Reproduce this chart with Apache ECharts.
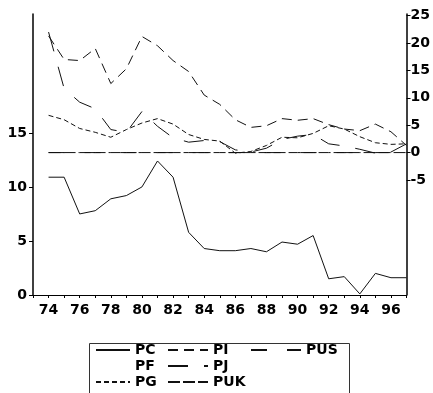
<!DOCTYPE html>
<html><head><meta charset="utf-8">
<script src="https://cdn.jsdelivr.net/npm/echarts@6/dist/echarts.min.js"></script>
<style>html,body{margin:0;padding:0;background:#fff}#c{width:433px;height:393px}</style>
</head><body><div id="c"></div>
<script>
const years = [1974,1975,1976,1977,1978,1979,1980,1981,1982,1983,1984,1985,1986,1987,1988,1989,1990,1991,1992,1993,1994,1995,1996,1997];
const PC  = [10.9,10.9,7.5,7.8,8.9,9.2,10.0,12.4,10.9,5.8,4.3,4.1,4.1,4.3,4.0,4.9,4.7,5.5,1.5,1.7,0.1,2.0,1.6,1.6];
const PF  = [];
const PG  = [6.8,6.0,4.4,3.7,2.8,4.2,5.4,6.2,5.2,3.3,2.4,2.1,-0.1,0.2,1.3,2.8,2.7,3.5,4.9,4.3,2.9,1.8,1.5,1.6];
const PI  = [21.3,17.0,16.8,19.0,12.6,15.3,21.2,19.5,16.8,14.8,10.5,8.8,6.0,4.6,4.9,6.2,5.9,6.2,5.1,4.3,4.0,5.2,3.8,1.3];
const PJ  = [22.0,11.7,9.2,8.0,4.2,3.7,7.5,4.8,2.7,1.9,2.2,2.0,0.5,0.1,0.8,2.4,3.0,3.3,1.6,1.2,0.6,-0.1,0.1,1.6];
const PUK = [0,0,0,0,0,0,0,0,0,0,0,0,0,0,0,0,0,0,0,0,0,0,0,0];
const PUS = [0,0,0,0,0,0,0,0,0,0,0,0,0,0,0,0,0,0,0,0,0,0,0,0];
const leftTicks = [0,5,10,15];
const rightTicks = [-5,0,5,10,15,20,25];
const xLabelYears = [1974,1976,1978,1980,1982,1984,1986,1988,1990,1992,1994,1996];

const pair = a => a.map((v,i)=>[years[i], v]);
const font = {fontFamily:'DejaVu Sans, Liberation Sans, sans-serif', fontWeight:'bold', fontSize:14, color:'#000'};
function mk(name, data, yIdx, type){
  return {name, type:'line', data:pair(data), yAxisIndex:yIdx, symbol:'none', silent:true,
    lineStyle:{color:'#111', width:1, type:type}, itemStyle:{color:'#000'}, z:3};
}
function leg(left, w, names){
  return {orient:'vertical', left:left, top:343, padding:0, itemWidth:w, itemHeight:14, itemGap:2,
    itemStyle:{opacity:0}, data:names, textStyle:font, selectedMode:false, height:60};
}
const chart = echarts.init(document.getElementById('c'), null, {renderer:'canvas'});
chart.setOption({
  animation:false,
  backgroundColor:'#fff',
  grid:{left:33, right:25, top:14, bottom:98},
  xAxis:{type:'value', min:1973, max:1997, interval:1,
    axisLine:{lineStyle:{color:'#000', width:1}},
    axisTick:{show:true, length:3, lineStyle:{color:'#000'}},
    splitLine:{show:false},
    axisLabel:Object.assign({margin:8, customValues:xLabelYears, formatter:v=>String(v).slice(2)}, font)},
  yAxis:[
    {type:'value', position:'left', min:0, max:26, interval:5,
      axisLine:{show:true, lineStyle:{color:'#000', width:1.5}},
      axisTick:{show:true, length:4, customValues:leftTicks, lineStyle:{color:'#000'}},
      splitLine:{show:false},
      axisLabel:Object.assign({margin:6, customValues:leftTicks}, font)},
    {type:'value', position:'right', min:-26, max:25.3, interval:5,
      axisLine:{show:true, lineStyle:{color:'#000', width:1.5}},
      axisTick:{show:true, length:4, customValues:rightTicks, lineStyle:{color:'#000'}},
      splitLine:{show:false},
      axisLabel:Object.assign({margin:4, customValues:rightTicks}, font)}
  ],
  legend:[
    leg(95, 34, ['PC','PF','PG']),
    leg(167, 40, ['PI','PJ','PUK']),
    leg(250, 50, ['PUS'])
  ],
  graphic:[{type:'rect', shape:{x:89.5, y:343.5, width:260, height:60}, style:{fill:'none', stroke:'#333', lineWidth:1}, z:0}],
  series:[
    mk('PC', PC, 0, 'solid'),
    Object.assign(mk('PF', PF, 1, 'solid'), {lineStyle:{color:'#000', width:1, opacity:0}}),
    mk('PG', PG, 1, [5,3]),
    mk('PI', PI, 1, [10,6]),
    mk('PJ', PJ, 1, [20,16]),
    mk('PUK', PUK, 1, [12,3]),
    mk('PUS', PUS, 1, [16,20])
  ]
});
</script></body></html>
